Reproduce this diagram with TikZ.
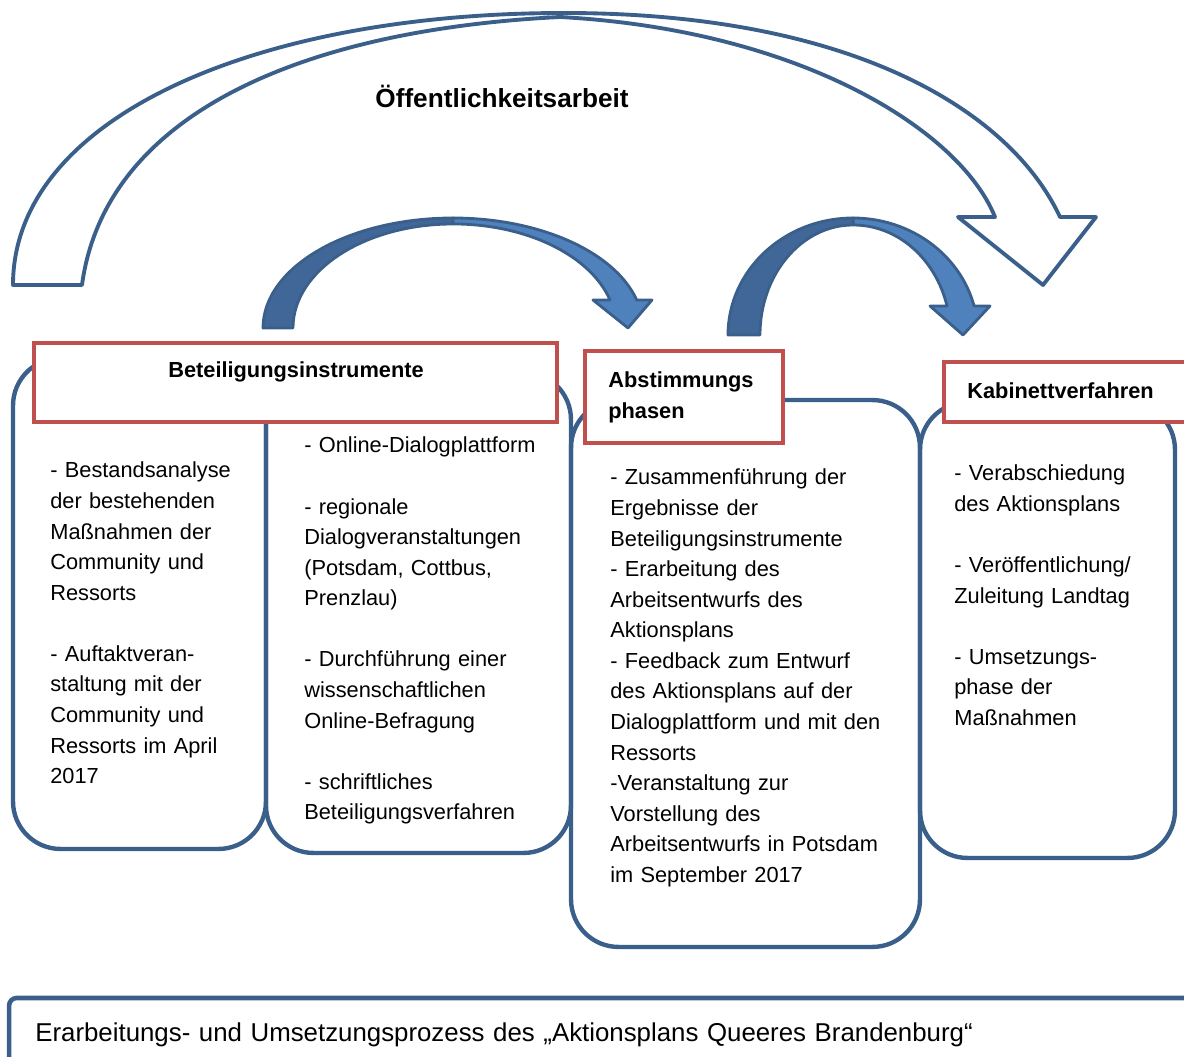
\documentclass[tikz,border=0pt]{standalone}
\usepackage{fontspec}
\setmainfont{Liberation Sans}
\usepackage{tikz}
\definecolor{boxblue}{RGB}{58,95,139}
\definecolor{boxred}{RGB}{192,80,77}
\definecolor{arrowlight}{RGB}{79,129,189}
\definecolor{arrowdark}{RGB}{64,103,152}

\begin{document}
\begin{tikzpicture}[x=0.02cm,y=-0.02cm,
  phase box/.style={draw=boxblue,line width=2.5pt,rounded corners=0.95cm,inner sep=0pt},
  head box/.style={draw=boxred,line width=2.3pt,fill=white,inner sep=0pt},
  head text/.style={font=\bfseries\fontsize{12.4}{17.4}\selectfont,inner sep=0pt},
  body text/.style={anchor=base west,align=left,inner sep=0pt,text width=7cm,font=\fontsize{12.4}{17.4}\selectfont},
  bend arrow/.style={draw=boxblue,line width=1.6pt,line join=round},
  outline arrow/.style={draw=boxblue,line width=2.2pt,line join=round,fill=white}]
    \useasboundingbox (0,0) rectangle (1184,1057);
    \clip (0,0) rectangle (1184,1057);

    \coordinate (oa tail) at (13,285);
    \coordinate (oa tip) at (1043,285);
    \coordinate (a1 tail) at (263,328);
    \coordinate (a1 top) at (453,218);
    \coordinate (a2 tail) at (728,335);
    \coordinate (a2 top) at (853,218);

    \filldraw[outline arrow] (oa tail) .. controls (13,120) and (250,14) .. (560,13)
        .. controls (850,12) and (1010,110) .. (1060,217) -- (1096,217) -- (oa tip) -- (958,217) -- (995,217)
        .. controls (960,130) and (800,30) .. (560,17) .. controls (300,30) and (105,115) .. (82,285) -- cycle;
    \node[head text,anchor=base] (oa label) at (502,108) {\fontsize{14.9}{18}\selectfont Öffentlichkeitsarbeit};

    \filldraw[bend arrow,fill=arrowdark] (a1 tail) arc[start angle=180,end angle=270,x radius=190,y radius=110]
        -- (453,224) arc[start angle=270,end angle=180,x radius=160,y radius=104] -- cycle;
    \filldraw[bend arrow,fill=arrowlight] (a1 top) arc[start angle=270,end angle=345.25,x radius=190,y radius=110]
        -- (652,300) -- (628,328) -- (593,300) -- (610,300) arc[start angle=344.4,end angle=270,x radius=163,y radius=104] -- cycle;

    \filldraw[bend arrow,fill=arrowdark] (a2 tail) arc[start angle=180,end angle=270,x radius=125,y radius=117]
        -- (853,225) arc[start angle=270,end angle=180,x radius=93,y radius=110] -- cycle;
    \filldraw[bend arrow,fill=arrowlight] (a2 top) arc[start angle=270,end angle=345.6,x radius=125,y radius=117]
        -- (990,306) -- (963,335) -- (930,306) -- (947,306) arc[start angle=344.7,end angle=270,x radius=97,y radius=110] -- cycle;

    \node[phase box,minimum width=5.06cm,minimum height=9.82cm] (analyse) at (139.5,603.5) {};
    \node[phase box,minimum width=6.1cm,minimum height=9.62cm] (dialog) at (418.5,612.5) {};
    \node[phase box,minimum width=6.98cm,minimum height=10.94cm] (abstimm) at (745.5,673.5) {};
    \node[phase box,minimum width=5.1cm,minimum height=9.12cm] (kabinett) at (1047.5,630) {};

    \node[head box,minimum width=10.46cm,minimum height=1.58cm] (beteil head) at (295.5,382.5) {};
    \node[head box,minimum width=3.96cm,minimum height=1.84cm] (abstimm head) at (684,397) {};
    \node[head box,minimum width=5.32cm,minimum height=1.2cm] (kabinett head) at (1077,392) {};

    \node[head text,anchor=base] (beteil title) at (296,378) {Beteiligungsinstrumente};
    \node[head text,anchor=base west,align=left,text width=3.5cm] (abstimm title) at (608,388) {Abstimmungs\\phasen};
    \node[head text,anchor=base west] (kabinett title) at (967,399) {Kabinettverfahren};

    \node[body text] (analyse text) at (50,478) {- Bestandsanalyse\\der bestehenden\\Maßnahmen der\\Community und\\Ressorts\\[\baselineskip]- Auftaktveran-\\staltung mit der\\Community und\\Ressorts im April\\2017};
    \node[body text] (dialog text) at (304,453) {- Online-Dialogplattform\\[\baselineskip]- regionale\\Dialogveranstaltungen\\(Potsdam, Cottbus,\\Prenzlau)\\[\baselineskip]- Durchführung einer\\wissenschaftlichen\\Online-Befragung\\[\baselineskip]- schriftliches\\Beteiligungsverfahren};
    \node[body text] (abstimm text) at (610,485) {- Zusammenführung der\\Ergebnisse der\\Beteiligungsinstrumente\\- Erarbeitung des\\Arbeitsentwurfs des\\Aktionsplans\\- Feedback zum Entwurf\\des Aktionsplans auf der\\Dialogplattform und mit den\\Ressorts\\-Veranstaltung zur\\Vorstellung des\\Arbeitsentwurfs in Potsdam\\im September 2017};
    \node[body text] (kabinett text) at (954,481) {- Verabschiedung\\des Aktionsplans\\[\baselineskip]- Veröffentlichung/\\Zuleitung Landtag\\[\baselineskip]- Umsetzungs-\\phase der\\Maßnahmen};

    \node[draw=boxblue,line width=2.6pt,rounded corners=0.15cm,minimum width=24.42cm,minimum height=2.24cm] (caption box) at (619.5,1054) {};
    \node[body text,text width=22cm,font=\fontsize{14.7}{18}\selectfont] (caption) at (35,1041) {Erarbeitungs- und Umsetzungsprozess des „Aktionsplans Queeres Brandenburg“};
\end{tikzpicture}
\end{document}
